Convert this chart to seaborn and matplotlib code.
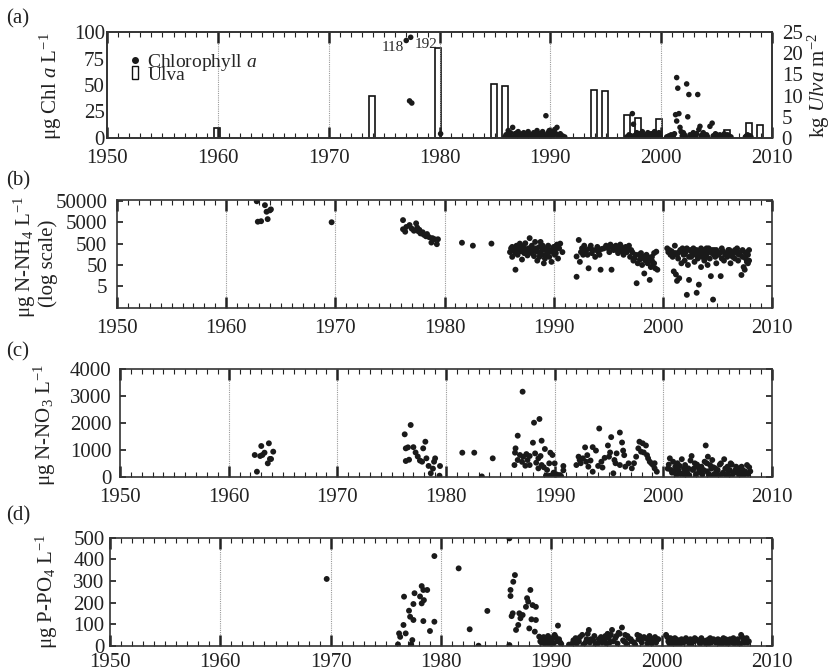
import numpy as np
import seaborn as sns
import matplotlib.pyplot as plt
from matplotlib.lines import Line2D
from matplotlib.patches import Rectangle
from matplotlib.ticker import MultipleLocator, FixedLocator, NullLocator

# ---- (a) chlorophyll a (ug/L) and Ulva biomass (kg/m2) ----
chl_year = [1977.3, 1977.5, 1980.1,
            1985.9, 1986.0, 1986.2, 1986.3, 1986.4, 1986.6, 1986.7, 1986.8, 1987.0, 1987.1,
            1987.3, 1987.4, 1987.6, 1987.7, 1987.9, 1988.0, 1988.2, 1988.3, 1988.5, 1988.6,
            1988.8, 1988.9, 1989.0, 1989.2, 1989.3, 1989.5, 1989.6, 1989.7, 1989.8, 1989.9,
            1990.1, 1990.2, 1990.4, 1990.5, 1990.6, 1990.8, 1991.0, 1991.3,
            1986.1, 1986.5, 1986.9, 1987.2, 1987.5, 1987.8, 1988.1, 1988.4, 1988.7, 1989.1,
            1989.4, 1990.0, 1990.3, 1990.7, 1990.9, 1991.1, 1986.2, 1987.0, 1988.0, 1989.9,
            1996.9, 1997.1, 1997.4, 1997.5, 1997.6, 1997.8, 1997.9, 1998.0, 1998.2, 1998.3,
            1998.5, 1998.6, 1998.8, 1998.9, 1999.1, 1999.2, 1999.4, 1999.5, 1999.7, 1999.8, 1999.9,
            1997.0, 1997.3, 1997.7, 1998.1, 1998.4, 1998.7, 1999.0, 1999.3, 1999.6,
            2000.5, 2000.7, 2000.9, 2001.0, 2001.2, 2001.3, 2001.4, 2001.4, 2001.5, 2001.6,
            2001.7, 2001.8, 2001.9, 2002.0, 2002.2, 2002.3, 2002.4, 2002.5, 2002.6, 2002.8,
            2002.9, 2003.0, 2003.2, 2003.3, 2003.4, 2003.5, 2003.6, 2003.8, 2004.0, 2004.1,
            2004.4, 2004.6, 2004.7, 2004.9, 2005.1, 2005.3, 2005.5, 2005.7, 2005.9, 2006.1,
            2006.3, 2007.6, 2007.8, 2008.0, 2008.1,
            2000.6, 2001.1, 2002.1, 2002.7, 2003.1, 2003.7, 2003.9, 2004.2, 2004.8, 2005.0,
            2005.2, 2005.6, 2005.8, 2006.0, 2006.2, 2007.7, 2007.9]
chl_value = [35, 33, 4,
             1, 3, 7, 2, 5, 10, 1, 4, 2, 6,
             3, 1, 5, 2, 4, 6, 1, 3, 5, 2,
             7, 1, 4, 2, 6, 3, 21, 1, 5, 3,
             6, 2, 8, 4, 10, 2, 1, 1,
             2, 1, 3, 1, 4, 1, 3, 2, 4, 1,
             2, 1, 3, 1, 4, 2, 4, 5, 2, 7,
             1, 3, 23, 13, 2, 5, 1, 4, 2, 6,
             1, 3, 5, 2, 4, 1, 6, 3, 2, 5, 1,
             1, 2, 3, 1, 2, 1, 3, 2, 1,
             1, 2, 3, 1, 4, 22, 57, 16, 47, 23,
             10, 6, 2, 5, 1, 51, 20, 41, 3, 1,
             5, 2, 4, 41, 8, 11, 2, 5, 1, 3,
             11, 14, 2, 4, 1, 3, 2, 4, 1, 2,
             1, 1, 3, 2, 1,
             1, 2, 3, 2, 1, 3, 2, 1, 2, 3,
             1, 2, 1, 3, 1, 2, 1]
# two off-scale samples, drawn at the top with their true values written beside
chl_off_year = [1977.0, 1977.4]
chl_off_shown = [92, 95]
chl_off_label = ["118", "192"]

ulva_year = [1959.9, 1973.9, 1979.9, 1984.9, 1985.9, 1993.9, 1994.9, 1996.9, 1997.9,
             1999.8, 2005.9, 2007.9, 2008.9]
ulva_kg = [2.4, 10.0, 21.3, 12.8, 12.3, 11.3, 11.0, 5.4, 4.6, 4.5, 1.9, 3.5, 3.1]

# ---- (b) N-NH4 (ug/L, log scale) ----
nh4_year = [1962.8, 1963.55, 1962.9, 1963.2, 1963.7, 1964.0, 1963.8, 1964.1, 1969.66,
            1976.2, 1976.2, 1976.4, 1976.5, 1976.8, 1977.0, 1977.2, 1977.4, 1977.5, 1977.6,
            1977.7, 1977.8, 1978.0, 1978.1, 1978.3, 1978.4, 1978.6, 1978.8, 1978.9, 1979.1,
            1979.3, 1979.4,
            1981.6, 1982.6, 1984.3,
            1986.0, 1986.1, 1986.2, 1986.3, 1986.5, 1986.5, 1986.6, 1986.7, 1986.8, 1986.9,
            1987.0, 1987.1, 1987.2, 1987.3, 1987.4, 1987.5, 1987.6, 1987.7, 1987.8, 1987.9,
            1988.0, 1988.1, 1988.2, 1988.3, 1988.4, 1988.5, 1988.6, 1988.7, 1988.8, 1988.9,
            1989.0, 1989.1, 1989.2, 1989.3, 1989.4, 1989.5, 1989.6, 1989.7, 1989.8, 1989.9,
            1990.0, 1990.1, 1990.2, 1990.3, 1990.4, 1990.5, 1990.6, 1990.8,
            1986.2, 1986.4, 1986.6, 1987.0, 1987.3, 1987.6, 1988.0, 1988.4, 1988.7, 1989.0,
            1989.3, 1989.6, 1990.0, 1990.2, 1990.4,
            1992.1, 1992.1, 1992.3, 1992.4, 1992.6, 1992.8, 1992.9, 1993.0, 1993.1, 1993.2,
            1993.3, 1993.5, 1993.6, 1993.8, 1994.0, 1994.1, 1994.3, 1994.4, 1994.8, 1995.0,
            1995.1, 1995.3, 1995.4, 1995.5, 1995.7, 1995.9, 1996.0, 1996.1, 1996.3, 1996.4,
            1996.6, 1996.7, 1996.9, 1997.0, 1997.1, 1997.3, 1997.4, 1997.6, 1997.7, 1997.8,
            1997.9, 1998.0, 1998.1, 1998.2, 1998.3, 1998.4, 1998.5, 1998.6, 1998.7, 1998.8,
            1998.9, 1999.0, 1999.1, 1999.2, 1999.3, 1999.4, 1999.5,
            1992.5, 1992.7, 1993.4, 1993.9, 1994.2, 1994.6, 1995.2, 1995.6, 1995.8, 1996.2,
            1996.5, 1996.8, 1997.2, 1997.5, 1998.3, 1998.6, 1999.0, 1999.2,
            2000.5, 2000.6, 2000.7, 2000.9, 2001.0, 2001.1, 2001.2, 2001.2, 2001.3, 2001.4,
            2001.5, 2001.6, 2001.7, 2001.8, 2001.9, 2002.0, 2002.1, 2002.2, 2002.3, 2002.4,
            2002.5, 2002.6, 2002.7, 2002.8, 2002.9, 2003.0, 2003.1, 2003.2, 2003.3, 2003.4,
            2003.5, 2003.6, 2003.7, 2003.8, 2003.9, 2004.0, 2004.1, 2004.2, 2004.3, 2004.4,
            2004.5, 2004.6, 2004.7, 2004.8, 2004.9, 2005.0, 2005.1, 2005.3, 2005.4, 2005.5,
            2005.6, 2005.8, 2005.9, 2006.0, 2006.2, 2006.3, 2006.5, 2006.6, 2006.8, 2006.9,
            2007.0, 2007.2, 2007.3, 2007.4, 2007.5, 2007.6, 2007.7, 2007.8, 2007.9,
            2000.4, 2000.8, 2001.0, 2001.3, 2001.5, 2001.7, 2002.0, 2002.2, 2002.4, 2002.6,
            2002.9, 2003.1, 2003.3, 2003.5, 2003.8, 2004.0, 2004.2, 2004.5, 2004.7, 2004.9,
            2005.2, 2005.4, 2005.7, 2006.0, 2006.1, 2006.4, 2006.6, 2006.8, 2007.1, 2007.3,
            2007.6, 2007.8, 2007.9, 2007.7]
nh4_value = [48000, 31500, 5300, 5600, 15500, 18000, 7000, 20000, 5000,
             6300, 2350, 1800, 3000, 3700, 2500, 2000, 4450, 2800, 1900,
             2200, 1500, 1700, 1300, 1100, 1400, 1000, 560, 900, 800,
             470, 800,
             550, 400, 500,
             200, 300, 120, 250, 30, 180, 400, 150, 300, 500,
             220, 90, 350, 180, 520, 260, 140, 300, 900, 200,
             400, 250, 130, 600, 300, 80, 200, 350, 600, 150,
             250, 60, 100, 300, 180, 400, 120, 250, 70, 200,
             350, 150, 280, 450, 100, 300, 500, 200,
             350, 220, 260, 400, 300, 200, 180, 220, 120, 400,
             150, 220, 250, 180, 350,
             125, 14, 740, 70, 300, 400, 200, 250, 150, 35,
             300, 180, 250, 120, 350, 200, 30, 280, 400, 300,
             200, 30, 350, 250, 400, 180, 300, 450, 220, 150,
             350, 200, 400, 120, 250, 80, 100, 7, 60, 150,
             90, 180, 50, 120, 20, 80, 150, 60, 100, 10,
             40, 120, 60, 180, 35, 210, 30,
             200, 150, 400, 250, 150, 300, 450, 300, 250, 350,
             280, 300, 200, 150, 100, 120, 80, 60,
             200, 250, 150, 120, 25, 400, 18, 180, 9, 100,
             12, 250, 60, 300, 150, 80, 200, 2, 50, 10,
             250, 120, 180, 300, 70, 150, 2.5, 100, 6, 200,
             40, 120, 250, 80, 150, 300, 50, 200, 100, 15,
             180, 1.2, 250, 120, 60, 200, 150, 15, 100, 220,
             80, 180, 120, 250, 60, 150, 200, 100, 180, 80,
             150, 17, 120, 40, 30, 100, 200, 150, 250,
             300, 220, 180, 150, 200, 250, 160, 300, 120, 220,
             180, 250, 150, 300, 200, 120, 300, 250, 150, 250,
             180, 300, 150, 180, 250, 120, 250, 300, 200, 250,
             180, 60, 80, 70]

# ---- (c) N-NO3 (ug/L) ----
no3_year = [1962.4, 1962.6, 1962.9, 1963.0, 1963.1, 1963.3, 1963.6, 1963.7, 1963.8, 1963.9, 1964.1,
            1976.2, 1976.3, 1976.3, 1976.5, 1976.6, 1976.75, 1977.0, 1977.2, 1977.4, 1977.6,
            1977.8, 1977.9, 1978.1, 1978.2, 1978.4, 1978.6, 1978.8, 1978.9, 1979.0, 1979.4, 1979.45,
            1981.5, 1982.6, 1983.3, 1984.3,
            1986.3, 1986.35, 1986.4, 1986.6, 1986.6, 1986.8, 1987.0, 1987.05, 1987.1, 1987.3,
            1987.4, 1987.5, 1987.7, 1987.7, 1988.0, 1988.1, 1988.2, 1988.3, 1988.5, 1988.5,
            1988.6, 1988.7, 1988.8, 1988.8, 1989.0, 1989.1, 1989.2, 1989.3, 1989.5, 1989.6,
            1989.6, 1989.8, 1989.9, 1990.0, 1990.0, 1990.2, 1990.4, 1990.5, 1990.8, 1990.8,
            1989.4, 1989.7, 1989.9, 1990.1, 1990.3, 1990.6,
            1992.0, 1992.2, 1992.3, 1992.6, 1992.8, 1992.9, 1993.1, 1993.5, 1993.5, 1993.8,
            1994.1, 1994.3, 1994.4, 1994.9, 1995.0, 1995.2, 1995.4, 1995.5, 1995.7, 1996.0,
            1996.0, 1996.2, 1996.3, 1996.5, 1996.8, 1997.1, 1997.5, 1997.7, 1997.8, 1997.95,
            1998.1, 1998.4, 1998.6, 1998.75, 1998.9, 1999.05, 1999.2, 1999.4,
            1992.4, 1993.0, 1993.3, 1994.0, 1994.6, 1995.1, 1995.6, 1996.4, 1997.3, 1998.2,
            1998.5, 1999.2,
            2000.4, 2000.6, 2000.8, 2000.9, 2001.1, 2001.2, 2001.4, 2001.5, 2001.7, 2001.8,
            2002.0, 2002.1, 2002.3, 2002.4, 2002.6, 2002.8, 2002.9, 2003.0, 2003.2, 2003.3,
            2003.5, 2003.6, 2003.8, 2003.9, 2004.0, 2004.1, 2004.2, 2004.3, 2004.4, 2004.5,
            2004.7, 2004.8, 2005.0, 2005.1, 2005.3, 2005.5, 2005.6, 2005.8, 2005.9, 2006.1,
            2006.2, 2006.4, 2006.6, 2006.7, 2006.9, 2007.0, 2007.2, 2007.4, 2007.5, 2007.7, 2007.8,
            2000.5, 2000.7, 2001.0, 2001.3, 2001.6, 2001.9, 2002.2, 2002.5, 2002.7, 2003.1,
            2003.4, 2003.7, 2004.0, 2004.2, 2004.6, 2004.9, 2005.2, 2005.4, 2005.7, 2006.0,
            2006.3, 2006.5, 2006.8, 2007.1, 2007.3, 2007.6, 2007.9, 2002.0, 2003.0, 2004.5,
            2005.0, 2006.0, 2007.0, 2008.0]
no3_value = [806, 186, 768, 1140, 806, 892, 496, 1240, 660, 657, 930,
             1574, 1053, 583, 1090, 631, 1920, 1097, 900, 750, 600,
             557, 1053, 1300, 682, 400, 126, 300, 557, 682, 37, 397,
             892, 892, 10, 682,
             433, 892, 1053, 1523, 620, 806, 550, 3157, 743, 409,
             840, 620, 768, 433, 1263, 2006, 866, 520, 682, 310,
             2143, 768, 1337, 433, 350, 1029, 37, 250, 496, 892,
             37, 806, 150, 496, 37, 80, 37, 60, 397, 235,
             20, 10, 15, 20, 10, 15,
             433, 743, 620, 682, 1090, 557, 372, 186, 1097, 970,
             1790, 557, 340, 1160, 743, 1470, 126, 620, 866, 1640,
             433, 1270, 970, 372, 496, 310, 743, 1053, 1300, 930,
             1240, 1160, 682, 557, 496, 433, 310, 186,
             500, 800, 600, 400, 700, 900, 500, 800, 500, 900,
             800, 500,
             300, 682, 150, 557, 372, 60, 235, 400, 650, 120,
             433, 200, 310, 50, 768, 300, 496, 100, 372, 250,
             372, 80, 557, 1160, 200, 743, 40, 433, 300, 620,
             100, 310, 250, 60, 496, 150, 650, 30, 372, 250,
             496, 90, 235, 372, 120, 300, 372, 50, 200, 433, 100,
             450, 250, 200, 500, 100, 300, 150, 600, 250, 450,
             150, 250, 500, 100, 350, 200, 450, 100, 300, 200,
             450, 150, 300, 100, 250, 150, 350, 20, 10, 20,
             10, 15, 20, 200]

# ---- (d) P-PO4 (ug/L) ----
po4_year = [1969.64,
            1976.1, 1976.2, 1976.3, 1976.6, 1976.65, 1976.8, 1977.1, 1977.2, 1977.5, 1977.5,
            1977.6, 1977.4, 1977.3, 1978.1, 1978.25, 1978.25, 1978.4, 1978.45, 1978.4, 1978.75,
            1979.0, 1979.4, 1979.4,
            1981.6, 1982.6, 1983.4, 1984.2,
            1986.2, 1986.2, 1986.3, 1986.3, 1986.4, 1986.5, 1986.55, 1986.7, 1986.8, 1987.0,
            1987.1, 1987.2, 1987.4, 1987.7, 1987.8, 1987.9, 1988.0, 1988.1, 1988.2, 1988.3,
            1988.5, 1988.6, 1988.6, 1988.9, 1989.0, 1989.2, 1989.4, 1989.6, 1989.8, 1990.0,
            1990.3, 1990.6, 1990.8,
            1991.9, 1992.2, 1992.5, 1992.8, 1993.1, 1993.4, 1993.6, 1993.9, 1994.2, 1994.5,
            1994.8, 1995.1, 1995.3, 1995.5, 1995.8, 1996.1, 1996.4, 1996.6, 1996.9, 1997.2,
            1997.5, 1997.8, 1998.1, 1998.4, 1998.7, 1999.0, 1999.3, 1999.6,
            2000.4, 2000.6, 2000.8, 2001.0, 2001.3, 2001.6, 2001.9, 2002.2, 2002.5, 2002.8,
            2003.1, 2003.4, 2003.7, 2004.0, 2004.3, 2004.6, 2004.9, 2005.2, 2005.5, 2005.8,
            2006.1, 2006.4, 2006.7, 2007.0, 2007.2, 2007.4, 2007.6, 2007.8,
            1989.1, 1989.3, 1989.5, 1989.7, 1989.9, 1990.1, 1990.2, 1990.4, 1990.5, 1990.7,
            1990.9, 1991.6, 1992.0, 1992.3, 1992.6, 1992.9, 1993.2, 1993.3, 1993.5, 1993.8,
            1994.0, 1994.3, 1994.6, 1994.9, 1995.0, 1995.2, 1995.4, 1995.6, 1995.9, 1996.0,
            1996.2, 1996.5, 1996.7, 1996.8, 1997.0, 1997.3, 1997.6, 1997.9, 1998.0, 1998.2,
            1998.5, 1998.8, 1998.9, 1999.1, 1999.4, 1999.5, 1999.7,
            2000.5, 2000.7, 2000.9, 2001.1, 2001.2, 2001.4, 2001.5, 2001.7, 2001.8, 2002.0,
            2002.3, 2002.6, 2002.7, 2002.9, 2003.0, 2003.3, 2003.5, 2003.6, 2003.8, 2004.1,
            2004.2, 2004.4, 2004.5, 2004.7, 2005.0, 2005.1, 2005.3, 2005.4, 2005.6, 2005.7,
            2005.9, 2006.0, 2006.2, 2006.3, 2006.5, 2006.6, 2006.8, 2006.9, 2007.1, 2007.3,
            2007.5, 2007.7, 2007.9]
po4_value = [309,
             6, 57, 41, 96, 227, 57, 162, 134, 119, 193,
             243, 26, 6, 228, 276, 196, 258, 211, 114, 258,
             68, 415, 111,
             358, 76, 0, 161,
             497, 3, 258, 230, 137, 150, 296, 327, 73, 96,
             150, 127, 142, 180, 220, 204, 80, 258, 122, 188,
             65, 180, 119, 42, 20, 35, 10, 25, 5, 30,
             50, 93, 15,
             10, 35, 20, 50, 15, 73, 30, 45, 10, 40,
             25, 55, 15, 73, 35, 60, 84, 20, 45, 30,
             15, 50, 25, 40, 10, 35, 20, 30,
             50, 20, 35, 10, 30, 15, 25, 35, 10, 20,
             30, 15, 25, 10, 30, 20, 15, 25, 10, 30,
             20, 15, 25, 10, 50, 20, 30, 15,
             15, 40, 20, 45, 15, 35, 10, 40, 20, 30,
             8, 5, 25, 10, 40, 5, 30, 55, 15, 25,
             5, 30, 15, 45, 10, 35, 50, 20, 45, 10,
             55, 25, 50, 10, 35, 20, 5, 30, 45, 15,
             35, 25, 45, 10, 40, 15, 30,
             40, 10, 30, 15, 35, 5, 25, 10, 30, 15,
             20, 30, 5, 20, 35, 25, 10, 35, 20, 25,
             5, 35, 15, 30, 20, 30, 5, 25, 35, 15,
             25, 5, 30, 20, 35, 10, 25, 30, 5, 40,
             15, 35, 20]

sns.set_theme(style="ticks")
plt.rcParams["font.family"] = ["Liberation Serif", "DejaVu Serif"]
plt.rcParams["mathtext.fontset"] = "custom"
plt.rcParams["mathtext.rm"] = "Liberation Serif"
plt.rcParams["mathtext.it"] = "Liberation Serif:italic"

W, H = 834, 671
DOT = "#1a1a1a"
fig = plt.figure(figsize=(W / 100, H / 100), dpi=100)


def px(x, y):
    return x / W, 1 - y / H


def add_panel(left, top, right, bottom):
    return fig.add_axes([left / W, 1 - bottom / H, (right - left) / W, (bottom - top) / H])


def style_x(ax, ypad, xpad=8):
    ax.set_xlim(1950, 2010)
    ax.xaxis.set_major_locator(MultipleLocator(10))
    ax.xaxis.set_minor_locator(MultipleLocator(1))
    ax.tick_params(axis="x", which="both", direction="in", top=True, bottom=True,
                   labelsize=15, colors="#222222", pad=xpad)
    ax.tick_params(axis="x", which="major", length=8, width=1.8)
    ax.tick_params(axis="x", which="minor", length=3.5, width=0.8)
    ax.tick_params(axis="y", which="both", direction="in", left=True, right=True,
                   labelleft=True, labelsize=15, colors="#222222", pad=ypad, length=4)
    for dec in [1960, 1970, 1980, 1990, 2000]:
        ax.axvline(dec, color="#9a9a9a", lw=0.8, ls=(0, (1, 1)), zorder=0)
    for sp in ax.spines.values():
        sp.set_linewidth(1.2)
        sp.set_color("#333333")
    ax.set_xlabel("")
    ax.set_ylabel("")


# ---- panel (a) ----
ax_a = add_panel(107, 32, 772, 138)
ax_u = ax_a.twinx()
ax_u.bar(ulva_year, ulva_kg, width=0.55, facecolor="none", edgecolor="#111111", lw=1.2)
ax_u.set_ylim(0, 25)
ax_u.yaxis.set_major_locator(FixedLocator([0, 5, 10, 15, 20, 25]))
ax_u.tick_params(axis="y", direction="in", length=0, labelsize=15, colors="#222222", pad=7)
ax_a.set_zorder(ax_u.get_zorder() + 1)
ax_a.patch.set_visible(False)

sns.scatterplot(x=chl_year, y=chl_value, ax=ax_a, color=DOT, s=16, edgecolor="none", legend=False)
sns.scatterplot(x=chl_off_year, y=chl_off_shown, ax=ax_a, color=DOT, s=16, edgecolor="none",
                legend=False)
ax_a.annotate(chl_off_label[0], (chl_off_year[0], chl_off_shown[0]), xytext=(-2, -5),
              textcoords="offset points", ha="right", va="center", fontsize=11)
ax_a.annotate(chl_off_label[1], (chl_off_year[1], chl_off_shown[1]), xytext=(3, -5),
              textcoords="offset points", ha="left", va="center", fontsize=11)
ax_a.set_ylim(0, 100)
ax_a.yaxis.set_major_locator(FixedLocator([0, 25, 50, 75, 100]))
style_x(ax_a, 1.5)
ax_a.tick_params(axis="y", left=False, right=False)
for sp in ax_u.spines.values():
    sp.set_linewidth(1.2)
    sp.set_color("#333333")

handles = [Line2D([], [], ls="none", marker="o", ms=4, color=DOT),
           Rectangle((0, 0), 1, 1, facecolor="none", edgecolor="#111111", lw=1.0)]
ax_a.legend(handles, ["Chlorophyll $\\mathit{a}$", "Ulva"], loc="upper left",
            bbox_to_anchor=(0.037, 0.81), frameon=False, fontsize=14, handlelength=0.35,
            handleheight=0.65, handletextpad=0.45, labelspacing=-0.35, borderpad=0,
            borderaxespad=0)

# ---- panel (b) ----
ax_b = add_panel(117, 200, 772, 307.7)
sns.scatterplot(x=nh4_year, y=nh4_value, ax=ax_b, color=DOT, s=18, edgecolor="none", legend=False)
ax_b.set_yscale("log")
ax_b.set_ylim(0.5, 55000)
ax_b.yaxis.set_major_locator(FixedLocator([5, 50, 500, 5000, 50000]))
ax_b.yaxis.set_minor_locator(NullLocator())
ax_b.set_yticklabels(["5", "50", "500", "5000", "50000"])
style_x(ax_b, 7)

# ---- panel (c) ----
ax_c = add_panel(120, 369, 772, 476.7)
sns.scatterplot(x=no3_year, y=no3_value, ax=ax_c, color=DOT, s=18, edgecolor="none", legend=False)
ax_c.set_ylim(0, 4000)
ax_c.yaxis.set_major_locator(FixedLocator([0, 1000, 2000, 3000, 4000]))
style_x(ax_c, 6)

# ---- panel (d) ----
ax_d = add_panel(110, 537.7, 772, 645.7)
sns.scatterplot(x=po4_year, y=po4_value, ax=ax_d, color=DOT, s=18, edgecolor="none", legend=False)
ax_d.set_ylim(0, 500)
ax_d.yaxis.set_major_locator(FixedLocator([0, 100, 200, 300, 400, 500]))
style_x(ax_d, 4, xpad=5.5)

# ---- axis titles and panel letters ----
lab = dict(rotation=90, ha="center", va="center", fontsize=15, color="#222222")
fig.text(*px(51, 86), "μg Chl $\\mathit{a}$ L$^{-1}$", **lab)
fig.text(*px(819, 85), "kg $\\mathit{Ulva}$ m$^{-2}$", **lab)
fig.text(*px(25, 257), "μg N-NH$_4$ L$^{-1}$", **lab)
fig.text(*px(48, 263), "(log scale)", **lab)
fig.text(*px(45, 425), "μg N-NO$_3$ L$^{-1}$", **lab)
fig.text(*px(47, 592), "μg P-PO$_4$ L$^{-1}$", **lab)
for letter, yy in [("(a)", 19), ("(b)", 181), ("(c)", 352), ("(d)", 516)]:
    fig.text(*px(18, yy), letter, ha="center", va="center", fontsize=15, color="#222222")

fig.savefig("out.png", dpi=100)
